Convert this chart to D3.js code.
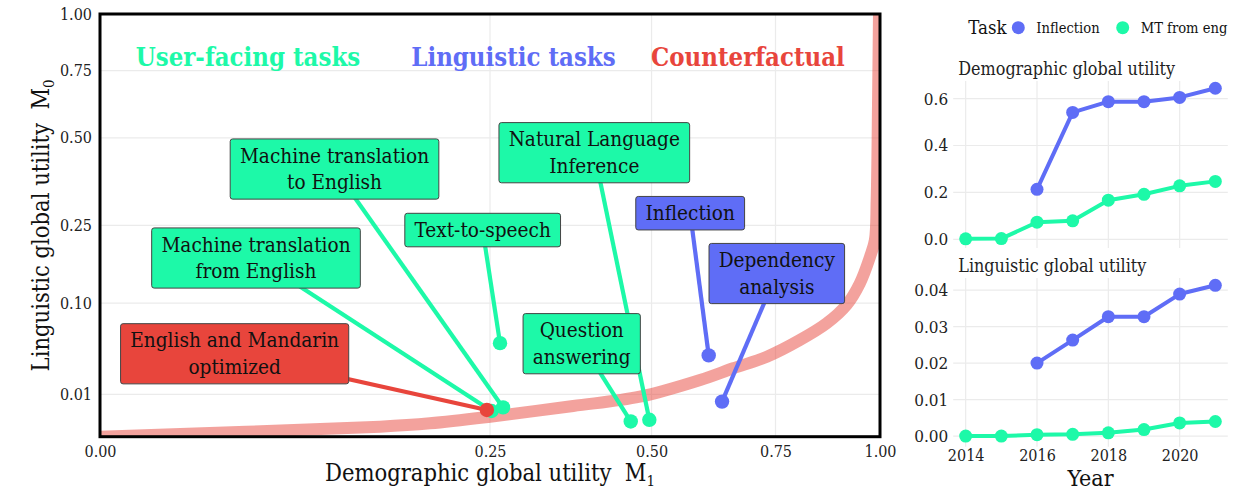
<!DOCTYPE html>
<html>
<head>
<meta charset="utf-8">
<script src="https://cdn.jsdelivr.net/npm/d3@7/dist/d3.min.js"></script>
<style>
  html, body { margin: 0; padding: 0; background: #fff; }
  svg { display: block; }
  text { font-family: 'DejaVu Serif Condensed', 'DejaVu Serif', serif; font-stretch: condensed; }
</style>
</head>
<body>
<svg id="chart" width="1249" height="503"></svg>
<script>
// ---------------- DATA ----------------
// Main scatter: tasks with demographic (M1) and linguistic (M0) global utility
const tasks = ["Machine translation from English", "Machine translation to English", "Text-to-speech",
  "Question answering", "Natural Language Inference", "Inflection", "Dependency analysis",
  "English and Mandarin optimized"];
const taskLines = [["Machine translation", "from English"], ["Machine translation", "to English"], ["Text-to-speech"],
  ["Question", "answering"], ["Natural Language", "Inference"], ["Inflection"], ["Dependency", "analysis"],
  ["English and Mandarin", "optimized"]];
const taskGroup = ["user", "user", "user", "user", "user", "ling", "ling", "cf"];
const taskDemo = [0.252, 0.267, 0.263, 0.463, 0.496, 0.609, 0.636, 0.246];
const taskLing = [0.0037, 0.0048, 0.049, 0.0013, 0.0016, 0.037, 0.0069, 0.0040];
// repelled label anchors (data units)
const labelDemo = [0.040, 0.0904, 0.2407, 0.3814, 0.4016, 0.5725, 0.7529, 0.0298];
const labelLing = [0.1787, 0.401, 0.239, 0.0484, 0.4514, 0.2796, 0.149, 0.0385];

// Counterfactual frontier
const cfDemo = [0, 0.129, 0.179, 0.25, 0.368, 0.479, 0.592, 0.659, 0.731, 0.805, 0.868, 0.916, 0.949, 0.9745, 0.987, 0.9915, 0.995, 0.9974];
const cfLing = [0, 0.00056, 0.0010, 0.00224, 0.00527, 0.00895, 0.0180, 0.0262, 0.0358, 0.0523, 0.0720, 0.0971, 0.1317, 0.181, 0.2165, 0.3136, 0.634, 1.0];

// Group titles
const groupNames = ["User-facing tasks", "Linguistic tasks", "Counterfactual"];
const groupKeys = ["user", "ling", "cf"];
const groupDemo = [0.036, 0.281, 0.690];
const groupLing = [0.77, 0.77, 0.77];

// Axis ticks
const mainXTicks = [0, 0.25, 0.5, 0.75, 1];
const mainYTicks = [0.01, 0.10, 0.25, 0.50, 0.75, 1.00];

// Time series (right panels)
const years = [2014, 2015, 2016, 2017, 2018, 2019, 2020, 2021];
const seriesNames = ["Inflection", "MT from eng"];
const inflDemo = [null, null, 0.213, 0.541, 0.587, 0.587, 0.605, 0.644];
const mtDemo = [0.002, 0.003, 0.073, 0.079, 0.167, 0.192, 0.228, 0.247];
const inflLing = [null, null, 0.0200, 0.0263, 0.0327, 0.0327, 0.0389, 0.0413];
const mtLing = [0.0000, 0.0000, 0.0004, 0.0005, 0.0009, 0.0018, 0.0036, 0.0040];
const yearTicks = [2014, 2016, 2018, 2020];
const demoTicks = [0, 0.2, 0.4, 0.6];
const lingTicks = [0, 0.01, 0.02, 0.03, 0.04];

// ---------------- STYLE ----------------
const COL = { user: "#1DF9A8", ling: "#5F6DF6", cf: "#E8453C" };
const GRID = "#EBEBEB";

const svg = d3.select("#chart");

// ================= MAIN CHART =================
const M = { left: 100, right: 880, top: 14, bottom: 436.7 };
const x = d3.scaleSqrt().domain([0, 1]).range([M.left, M.right]);
const y = d3.scaleSqrt().domain([0, 1]).range([M.bottom, M.top]);

const main = svg.append("g");
main.append("rect").attr("x", M.left).attr("y", M.top)
  .attr("width", M.right - M.left).attr("height", M.bottom - M.top).attr("fill", "#fff");

// grid
main.append("g").selectAll("line").data(mainXTicks.filter(d => d > 0 && d < 1)).join("line")
  .attr("x1", d => x(d)).attr("x2", d => x(d)).attr("y1", M.top).attr("y2", M.bottom)
  .attr("stroke", GRID).attr("stroke-width", 1.2);
main.append("g").selectAll("line").data(mainYTicks.filter(d => d < 1)).join("line")
  .attr("y1", d => y(d)).attr("y2", d => y(d)).attr("x1", M.left).attr("x2", M.right)
  .attr("stroke", GRID).attr("stroke-width", 1.2);

// clip
svg.append("clipPath").attr("id", "clipMain").append("rect")
  .attr("x", M.left).attr("y", M.top).attr("width", M.right - M.left).attr("height", M.bottom - M.top);

// counterfactual band
const cf = cfDemo.map((d, i) => [d, cfLing[i]]);
main.append("path").datum(cf)
  .attr("clip-path", "url(#clipMain)")
  .attr("d", d3.line().x(d => x(d[0])).y(d => y(d[1])).curve(d3.curveCatmullRom.alpha(0.5)))
  .attr("fill", "none").attr("stroke", COL.cf).attr("stroke-opacity", 0.5)
  .attr("stroke-width", 12).attr("stroke-linecap", "butt").attr("stroke-linejoin", "round");

// task records
const recs = tasks.map((t, i) => ({
  name: t, lines: taskLines[i], g: taskGroup[i],
  px: x(taskDemo[i]), py: y(taskLing[i]),
  lx: x(labelDemo[i]), ly: y(labelLing[i])
}));

// segments
main.append("g").selectAll("line").data(recs).join("line")
  .attr("x1", d => d.lx).attr("y1", d => d.ly).attr("x2", d => d.px).attr("y2", d => d.py)
  .attr("stroke", d => COL[d.g]).attr("stroke-width", 4.2);

// points (counterfactual last, on top)
const order = recs.slice().sort((a, b) => (a.g === "cf") - (b.g === "cf"));
main.append("g").selectAll("circle").data(order).join("circle")
  .attr("cx", d => d.px).attr("cy", d => d.py).attr("r", 7.2)
  .attr("fill", d => COL[d.g]);

// label boxes
const LH = 26.7, PADX = 9.7, PADV = 3.4, FS = 20.6;
const lab = main.append("g").selectAll("g").data(recs).join("g");
lab.each(function (d) {
  const g = d3.select(this);
  const rect = g.append("rect");
  const n = d.lines.length;
  let w = 0;
  d.lines.forEach((ln, i) => {
    const t = g.append("text").attr("x", d.lx)
      .attr("y", d.ly + (i - (n - 1) / 2) * LH + 7)
      .attr("text-anchor", "middle").attr("font-size", FS).attr("fill", "#111").text(ln);
    w = Math.max(w, t.node().getComputedTextLength());
  });
  const bw = w + 2 * PADX, bh = n * LH + 2 * PADV;
  rect.attr("x", d.lx - bw / 2).attr("y", d.ly - bh / 2).attr("width", bw).attr("height", bh)
    .attr("rx", 2.5).attr("fill", COL[d.g]).attr("stroke", "#444").attr("stroke-width", 1);
});

// group titles
main.append("g").selectAll("text").data(groupNames).join("text")
  .attr("x", (d, i) => x(groupDemo[i])).attr("y", (d, i) => y(groupLing[i]))
  .attr("text-anchor", "middle").attr("font-size", 25.5).attr("font-weight", "bold")
  .attr("fill", (d, i) => COL[groupKeys[i]]).text(d => d);

// frame
main.append("rect").attr("x", M.left).attr("y", M.top)
  .attr("width", M.right - M.left).attr("height", M.bottom - M.top)
  .attr("fill", "none").attr("stroke", "#000").attr("stroke-width", 3);

// axes
const xAxis = d3.axisBottom(x).tickValues(mainXTicks).tickFormat(d3.format(".2f")).tickSize(0).tickPadding(9);
const gx = main.append("g").attr("transform", `translate(0,${M.bottom})`).call(xAxis);
gx.select(".domain").remove();
gx.selectAll("text").attr("font-size", 16).attr("fill", "#222").attr("font-family", null);

const yAxis = d3.axisLeft(y).tickValues(mainYTicks).tickFormat(d3.format(".2f")).tickSize(0).tickPadding(8);
const gy = main.append("g").attr("transform", `translate(${M.left},0)`).call(yAxis);
gy.select(".domain").remove();
gy.selectAll("text").attr("font-size", 16).attr("fill", "#222").attr("font-family", null);

// axis titles
const xt = main.append("text").attr("x", (M.left + M.right) / 2).attr("y", 481)
  .attr("text-anchor", "middle").attr("font-size", 23.5).attr("fill", "#111");
xt.append("tspan").text("Demographic global utility\u00A0\u00A0M");
xt.append("tspan").attr("font-size", 15).attr("dy", 5).text("1");

const yt = main.append("text")
  .attr("transform", `translate(49,${(M.top + M.bottom) / 2}) rotate(-90)`)
  .attr("text-anchor", "middle").attr("font-size", 23.5).attr("fill", "#111");
yt.append("tspan").text("Linguistic global utility\u00A0\u00A0M");
yt.append("tspan").attr("font-size", 15).attr("dy", 5).text("0");

// ================= RIGHT PANELS =================
const R = { left: 953.2, right: 1227.8 };
const xr = d3.scaleLinear().domain([2013.65, 2021.35]).range([R.left, R.right]);
const panels = [
  { title: "Demographic global utility", titleY: 75, top: 81, bottom: 248, dom: [-0.037, 0.675],
    ticks: demoTicks, fmt: d3.format(".1f"), series: [inflDemo, mtDemo], showX: false },
  { title: "Linguistic global utility", titleY: 271.7, top: 278, bottom: 446.7, dom: [-0.0029, 0.0433],
    ticks: lingTicks, fmt: d3.format(".2f"), series: [inflLing, mtLing], showX: true }
];
const serCol = [COL.ling, COL.user];

panels.forEach(p => {
  const yr = d3.scaleLinear().domain(p.dom).range([p.bottom, p.top]);
  const g = svg.append("g");
  g.append("g").selectAll("line").data(yearTicks).join("line")
    .attr("x1", d => xr(d)).attr("x2", d => xr(d)).attr("y1", p.top).attr("y2", p.bottom)
    .attr("stroke", GRID).attr("stroke-width", 1.2);
  g.append("g").selectAll("line").data(p.ticks).join("line")
    .attr("y1", d => yr(d)).attr("y2", d => yr(d)).attr("x1", R.left).attr("x2", R.right)
    .attr("stroke", GRID).attr("stroke-width", 1.2);

  p.series.forEach((s, si) => {
    const pts = years.map((yy, i) => [yy, s[i]]).filter(d => d[1] !== null);
    g.append("path").datum(pts)
      .attr("d", d3.line().x(d => xr(d[0])).y(d => yr(d[1])))
      .attr("fill", "none").attr("stroke", serCol[si]).attr("stroke-width", 4)
      .attr("stroke-linejoin", "round");
    g.append("g").selectAll("circle").data(pts).join("circle")
      .attr("cx", d => xr(d[0])).attr("cy", d => yr(d[1])).attr("r", 6.5).attr("fill", serCol[si]);
  });

  const ya = d3.axisLeft(yr).tickValues(p.ticks).tickFormat(p.fmt).tickSize(0).tickPadding(5);
  const gya = g.append("g").attr("transform", `translate(${R.left},0)`).call(ya);
  gya.select(".domain").remove();
  gya.selectAll("text").attr("font-size", 17).attr("fill", "#222").attr("font-family", null);

  g.append("text").attr("x", 958.3).attr("y", p.titleY).attr("font-size", 17.8).attr("fill", "#222").text(p.title);

  if (p.showX) {
    const xa = d3.axisBottom(xr).tickValues(yearTicks).tickFormat(d3.format("d")).tickSize(0).tickPadding(3);
    const gxa = g.append("g").attr("transform", `translate(0,${p.bottom})`).call(xa);
    gxa.select(".domain").remove();
    gxa.selectAll("text").attr("font-size", 16).attr("fill", "#222").attr("font-family", null);
    g.append("text").attr("x", (R.left + R.right) / 2).attr("y", 486).attr("text-anchor", "middle")
      .attr("font-size", 23).attr("fill", "#111").text("Year");
  }
});

// legend
const lg = svg.append("g");
lg.append("text").attr("x", 968.3).attr("y", 34).attr("font-size", 18.5).attr("fill", "#111").text("Task");
const legX = [1018.3, 1122.7];
seriesNames.forEach((n, i) => {
  lg.append("circle").attr("cx", legX[i]).attr("cy", 27.7).attr("r", 6.5).attr("fill", serCol[i]);
  lg.append("text").attr("x", legX[i] + 18).attr("y", 33).attr("font-size", 14.6).attr("fill", "#111").text(n);
});
</script>
</body>
</html>
